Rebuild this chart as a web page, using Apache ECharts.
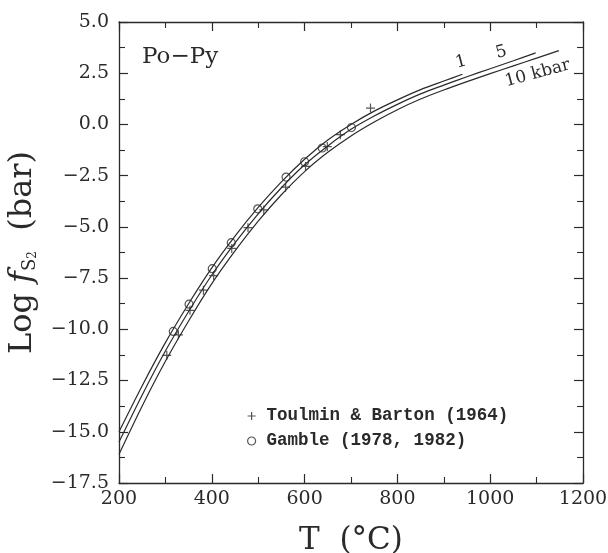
<!DOCTYPE html>
<html>
<head>
<meta charset="utf-8">
<script src="https://cdn.jsdelivr.net/npm/echarts@6/dist/echarts.min.js"></script>
<style>
html,body{margin:0;padding:0;background:#fff;}
#c{width:608px;height:553px;}
</style>
</head>
<body>
<div id="c"></div>
<script>
// ---- data ----
// 1 kbar curve
const t1 = [200,250,300,350,400,450,500,550,600,650,700,750,800,850,900,940];
const f1 = [-15.0,-12.75,-10.65,-8.75,-7.0,-5.45,-4.05,-2.8,-1.7,-0.76,0.0,0.65,1.2,1.7,2.12,2.45];
// 5 kbar curve
const t5 = [200,250,300,350,400,450,500,550,600,650,700,750,800,850,900,950,1000,1050,1098];
const f5 = [-15.5,-13.2,-11.06,-9.13,-7.35,-5.78,-4.36,-3.09,-1.97,-1.05,-0.24,0.41,0.98,1.49,1.92,2.33,2.72,3.11,3.49];
// 10 kbar curve
const t10 = [200,250,300,350,400,450,500,550,600,650,700,750,800,850,900,950,1000,1050,1100,1148];
const f10 = [-16.1,-13.74,-11.56,-9.59,-7.77,-6.17,-4.72,-3.43,-2.3,-1.36,-0.56,0.12,0.72,1.24,1.68,2.09,2.48,2.86,3.24,3.6];
// Toulmin & Barton (1964)
const tbT = [303,328,353,382,404,443,478,512,559,602,649,677,742];
const tbF = [-11.27,-10.27,-9.07,-8.09,-7.38,-6.05,-5.04,-4.17,-3.06,-2.05,-1.08,-0.5,0.8];
// Gamble (1978, 1982)
const gT = [317,351,401,442,499,560,600,638,701];
const gF = [-10.1,-8.77,-7.04,-5.77,-4.12,-2.57,-1.82,-1.15,-0.15];
// axis ticks
const xTicks = [200,400,600,800,1000,1200];
const yTicks = [-17.5,-15.0,-12.5,-10.0,-7.5,-5.0,-2.5,0.0,2.5,5.0];
// curve labels
const curveLabels = ['1','5','10 kbar'];
const seriesNames = ['Toulmin & Barton (1964)','Gamble (1978, 1982)'];

const zip = (a,b) => a.map((v,i)=>[v,b[i]]);
const INK = '#2a2a2a';
const SERIF = '"DejaVu Serif", serif';
const MONO = '"Liberation Mono", monospace';
const plusPath = 'path://M5,0L5,10M0,5L10,5';

const lineBase = {
  type:'line', smooth:0.3, showSymbol:false, symbol:'none',
  lineStyle:{color:INK,width:1.2}, silent:true, z:2
};
const lblStyle = {show:true, color:INK, fontFamily:SERIF, fontSize:17, rotate:15, position:'inside'};

const chart = echarts.init(document.getElementById('c'), null, {renderer:'canvas'});
const axisCommon = {
  axisLine:{onZero:false,lineStyle:{color:INK,width:1.3}},
  axisTick:{inside:true,length:9,lineStyle:{color:INK,width:1.2}},
  minorTick:{show:true,splitNumber:2,length:6,lineStyle:{color:INK,width:1.1}},
  splitLine:{show:false}
};
chart.setOption({
  animation:false,
  backgroundColor:'#fff',
  title:{text:'Po\u2212Py', left:137, top:41, textStyle:{fontFamily:SERIF,fontWeight:'normal',fontSize:23,color:INK}},
  grid:{left:119,right:25,top:22,bottom:70,outerBoundsMode:'none',containLabel:false},
  legend:{
    orient:'vertical', left:242, top:402, itemGap:7, itemWidth:8, itemHeight:8,
    textStyle:{fontFamily:MONO,fontWeight:'bold',fontSize:17.5,color:INK,padding:[0,0,0,6]},
    data:[
      {name:seriesNames[0], icon:plusPath, itemStyle:{color:'rgba(0,0,0,0)',borderColor:INK,borderWidth:1.2}},
      {name:seriesNames[1], icon:'circle', itemStyle:{color:'rgba(0,0,0,0)',borderColor:INK,borderWidth:1.2}}
    ]
  },
  xAxis:[
    Object.assign({type:'value',min:200,max:1200,interval:200,position:'bottom',
      name:'T  (°C)', nameLocation:'middle', nameGap:42,
      nameTextStyle:{fontFamily:SERIF,fontSize:31,color:INK},
      axisLabel:{fontFamily:SERIF,fontSize:19,color:INK,margin:7,
        formatter:v=>xTicks.includes(v)?String(v):''}}, axisCommon),
    Object.assign({type:'value',min:200,max:1200,interval:200,position:'top',
      axisLabel:{show:false}}, axisCommon)
  ],
  yAxis:[
    Object.assign({type:'value',min:-17.5,max:5,interval:2.5,position:'left',
      name:'{a|Log }{i|f}{s|S}{t|2}{a|  (bar)}', nameLocation:'middle', nameGap:80, nameRotate:90,
      nameTextStyle:{color:INK, rich:{
        a:{fontFamily:SERIF,fontSize:32,color:INK},
        i:{fontFamily:SERIF,fontSize:32,fontStyle:'italic',color:INK},
        s:{fontFamily:SERIF,fontSize:18,color:INK,verticalAlign:'bottom',padding:[14,0,0,0]},
        t:{fontFamily:SERIF,fontSize:12,color:INK,verticalAlign:'bottom',padding:[16,0,0,0]}
      }},
      axisLabel:{fontFamily:SERIF,fontSize:19,color:INK,margin:10,
        formatter:v=>{const s=v.toFixed(1);return s.replace('-','\u2212');}}}, axisCommon),
    Object.assign({type:'value',min:-17.5,max:5,interval:2.5,position:'right',
      axisLabel:{show:false}}, axisCommon)
  ],
  series:[
    Object.assign({}, lineBase, {name:'1 kbar', data:zip(t1,f1),
      markPoint:{symbol:'circle',symbolSize:1,itemStyle:{color:'rgba(0,0,0,0)'},silent:true,data:[{coord:[t1[t1.length-1],f1[f1.length-1]],
        label:Object.assign({},lblStyle,{formatter:curveLabels[0],offset:[2,-12]})}]}}),
    Object.assign({}, lineBase, {name:'5 kbar', data:zip(t5,f5),
      markPoint:{symbol:'circle',symbolSize:1,itemStyle:{color:'rgba(0,0,0,0)'},silent:true,data:[{coord:[t5[16],f5[16]],
        label:Object.assign({},lblStyle,{formatter:curveLabels[1],offset:[15,-13]})}]}}),
    Object.assign({}, lineBase, {name:'10 kbar', data:zip(t10,f10),
      markPoint:{symbol:'circle',symbolSize:1,itemStyle:{color:'rgba(0,0,0,0)'},silent:true,data:[{coord:[t10[18],f10[18]],
        label:Object.assign({},lblStyle,{formatter:curveLabels[2],offset:[-3,15]})}]}}),
    {type:'scatter', name:seriesNames[0], data:zip(tbT,tbF), symbol:plusPath, symbolSize:9,
      itemStyle:{color:'rgba(0,0,0,0)',borderColor:INK,borderWidth:1.2}, z:3},
    {type:'scatter', name:seriesNames[1], data:zip(gT,gF), symbol:'circle', symbolSize:8,
      itemStyle:{color:'rgba(0,0,0,0)',borderColor:INK,borderWidth:1.2}, z:3}
  ]
});
</script>
</body>
</html>
